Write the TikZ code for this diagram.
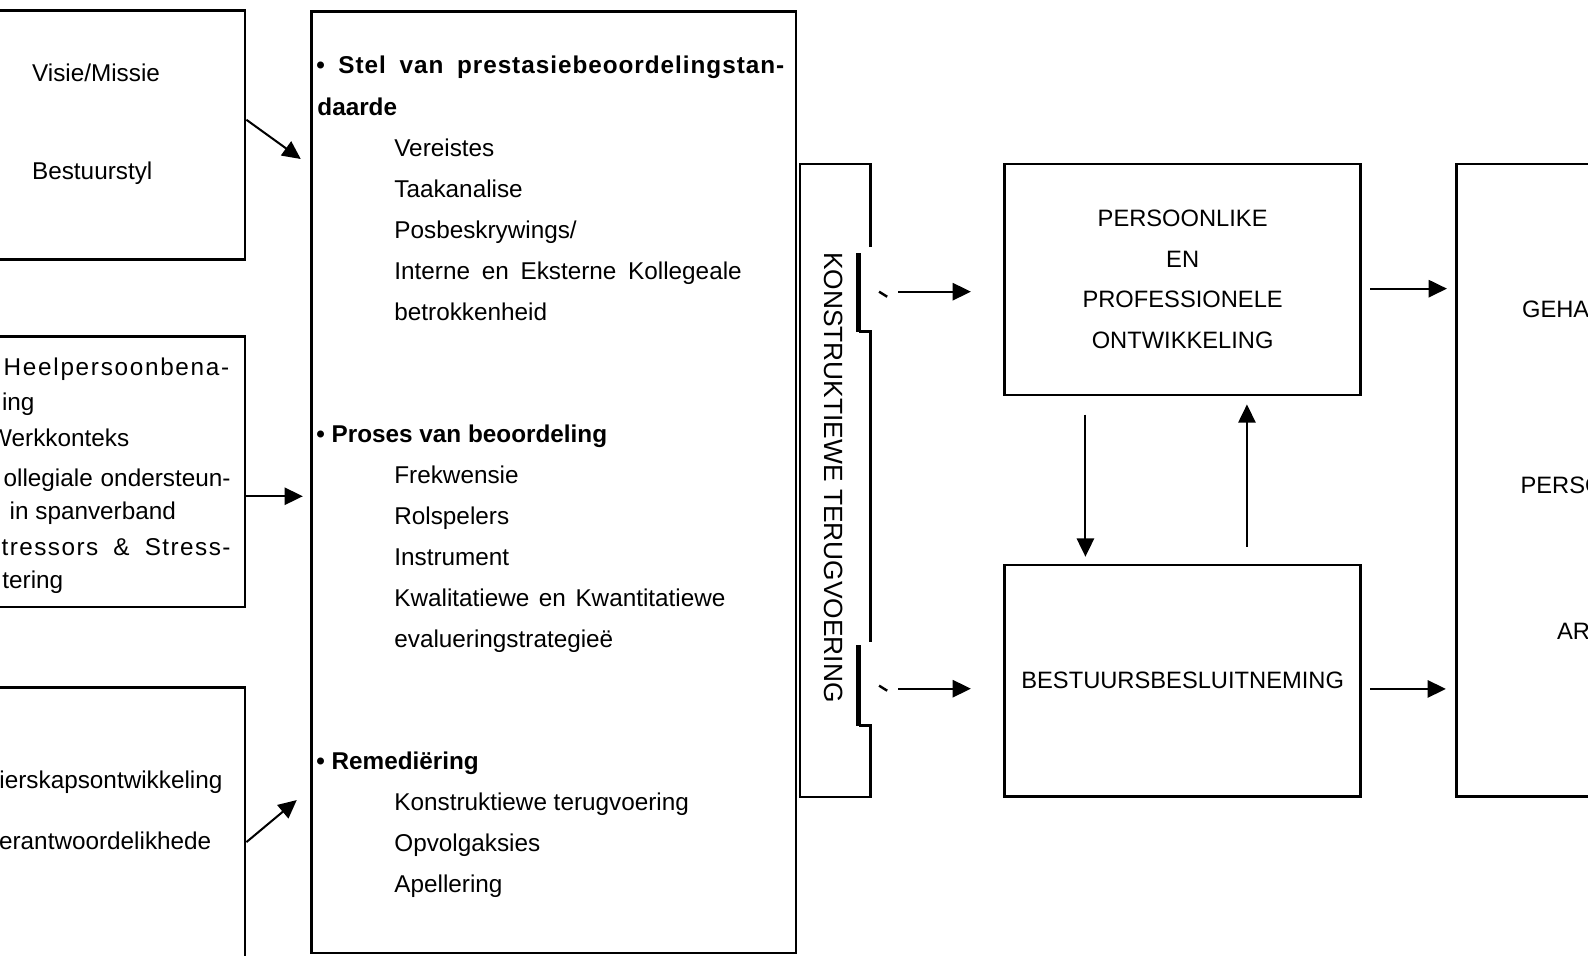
\documentclass[tikz,border=0pt]{standalone}
\usepackage{fontspec}
\setmainfont{Liberation Sans}
\usetikzlibrary{arrows.meta}
\begin{document}
\begin{tikzpicture}[x=0.5pt, y=-0.5pt,
  every node/.style={inner sep=0pt, font=\fontsize{12}{14}\selectfont},
  box/.style={draw, line width=1.3pt},
  line/.style={anchor=base west},
  rline/.style={anchor=base east},
  bold/.style={font=\fontsize{12}{14}\selectfont\bfseries},
  caps/.style={align=center, font=\fontsize{11.7}{20}\selectfont},
  arr/.style={line width=1pt, -{Triangle[length=9pt, width=8.5pt]}}]
  \useasboundingbox (0,0) rectangle (1568,943);
  \clip (0,0) rectangle (1568,943);

  % left boxes
  \node[box, minimum width=141pt, minimum height=122.75pt] (visie) at (101,133.25) {};
  \node[box, minimum width=141pt, minimum height=133.5pt] (mens) at (101,466) {};
  \node[box, minimum width=141pt, minimum height=150.5pt] (leier) at (101,829.5) {};

  \node[line] (v1) at (31.3,80.6) {Visie/Missie};
  \node[line] (v2) at (31.3,177.7) {Bestuurstyl};

  \node[line] (m1) at (3.3,371) {\addfontfeature{LetterSpace=7}Heelpersoonbena-};
  \node[line] (m2) at (1.6,405) {ing};
  \node[rline] (m3) at (128,441) {Werkkonteks};
  \node[rline] (m4) at (228,480) {\makebox[112pt][s]{ollegiale ondersteun-}};
  \node[line] (m5) at (9.2,513) {in spanverband};
  \node[rline] (m6) at (228,548) {\addfontfeature{LetterSpace=6}\makebox[113pt][s]{tressors \& Stress-}};
  \node[line] (m7) at (2,581) {tering};

  \node[rline] (l1) at (220,779) {eierskapsontwikkeling};
  \node[rline] (l2) at (209,839) {erantwoordelikhede};

  % main box
  \node[box, minimum width=239.25pt, minimum height=464.75pt] (stel) at (546.75,476.25) {};

  \node[line, bold] (s0) at (312,73) {\addfontfeature{LetterSpace=4}\makebox[231pt][s]{\textbullet\ Stel van prestasiebeoordelingstan-}};
  \node[line, bold] (s0b) at (313,113.6) {daarde};
  \node[line] (s1) at (389,154.5) {Vereistes};
  \node[line] (s2) at (389,195) {Taakanalise};
  \node[line] (s3) at (389,235.5) {Posbeskrywings/};
  \node[line] (s4) at (389,276) {\makebox[171.5pt][s]{Interne en Eksterne Kollegeale}};
  \node[line] (s5) at (389,316.5) {betrokkenheid};

  \node[line, bold] (p0) at (312,437) {\textbullet\ Proses van beoordeling};
  \node[line] (p1) at (389,477.5) {Frekwensie};
  \node[line] (p2) at (389,518) {Rolspelers};
  \node[line] (p3) at (389,558.5) {Instrument};
  \node[line] (p4) at (389,599) {\makebox[163.5pt][s]{Kwalitatiewe en Kwantitatiewe}};
  \node[line] (p5) at (389,639.5) {evalueringstrategieë};

  \node[line, bold] (r0) at (312,760) {\textbullet\ Remediëring};
  \node[line] (r1) at (389,800.5) {Konstruktiewe terugvoering};
  \node[line] (r2) at (389,841) {Opvolgaksies};
  \node[line] (r3) at (389,881.5) {Apellering};

  % feedback column
  \node[rotate=-90, font=\fontsize{13}{15}\selectfont] (terug) at (823.5,471.5) {KONSTRUKTIEWE TERUGVOERING};
  \draw[line width=1.3pt] (859.5,244) -- (859.5,162) -- (790,162) -- (790,787) -- (859.5,787) -- (859.5,716.5) -- (848,716.5);
  \draw[line width=1.3pt] (848,327.5) -- (859.5,327.5) -- (859.5,634);
  \draw[line width=2.6pt] (848,250) -- (848,328);
  \draw[line width=2.6pt] (848,637) -- (848,717);
  \draw[line width=1.2pt] (868,288) -- (876,293);
  \draw[line width=1.2pt] (868,677) -- (876,682);
  \coordinate (fb1) at (887,288);
  \coordinate (fb2) at (887,680);

  % right side
  \node[box, caps, minimum width=175.75pt, minimum height=114pt] (pers) at (1167.75,276) {PERSOONLIKE\\EN\\PROFESSIONELE\\ONTWIKKELING};
  \node[box, caps, minimum width=175.75pt, minimum height=114.25pt] (besluit) at (1167.75,672.25) {BESTUURSBESLUITNEMING};
  \node[box, minimum width=91pt, minimum height=312.25pt] (uitkoms) at (1529,474.25) {};

  \node[line, font=\fontsize{11.7}{14}\selectfont] (u1) at (1502.5,313) {GEHA};
  \node[line, font=\fontsize{11.7}{14}\selectfont] (u2) at (1501,487) {PERSO};
  \node[line, font=\fontsize{11.7}{14}\selectfont] (u3) at (1537,631) {AR};

  % arrows
  \coordinate (in1) at (297,157);
  \coordinate (in2) at (299,490);
  \coordinate (in3) at (293,790);
  \draw[arr] ([yshift=7.5pt]visie.east) -- (in1);
  \draw[arr] ([yshift=-12pt]mens.east) -- (in2);
  \draw[arr] ([yshift=-1pt]leier.east) -- (in3);

  \draw[arr, shorten >=16pt] (fb1) -- (fb1 -| pers.west);
  \draw[arr, shorten >=16pt] (fb2) -- (fb2 -| besluit.west);
  \draw[arr, shorten <=9pt, shorten >=3.5pt] ([xshift=-48pt]pers.south) -- ([xshift=-48pt]besluit.north);
  \draw[arr, shorten <=8.5pt, shorten >=4pt] ([xshift=31.75pt]besluit.north) -- ([xshift=31.75pt]pers.south);
  \draw[arr, shorten <=4pt, shorten >=4pt] ([yshift=-4.5pt]pers.east) -- ([yshift=-4.5pt]pers.east -| uitkoms.west);
  \draw[arr, shorten <=4pt, shorten >=4.5pt] ([yshift=-4pt]besluit.east) -- ([yshift=-4pt]besluit.east -| uitkoms.west);
\end{tikzpicture}
\end{document}
